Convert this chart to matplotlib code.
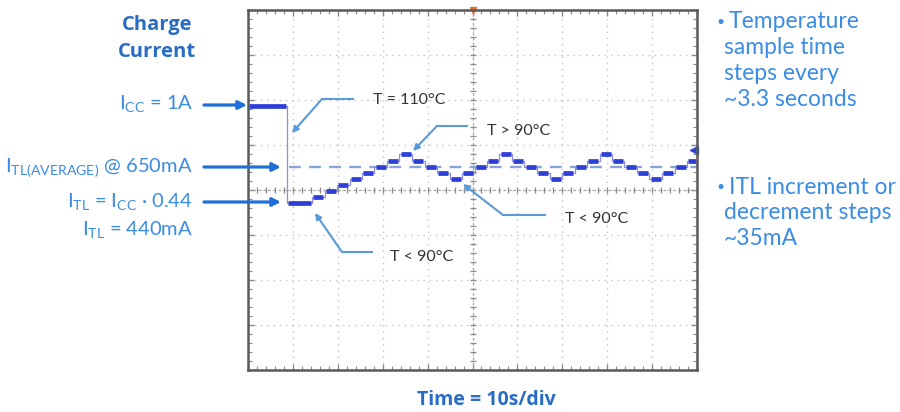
import matplotlib
matplotlib.use('Agg')
import matplotlib.pyplot as plt
import numpy as np

plt.rcParams['font.family'] = ['Lato', 'DejaVu Sans']
plt.rcParams['mathtext.fontset'] = 'custom'
plt.rcParams['mathtext.rm'] = 'Lato'

# scope trace: step start times (s) and charge current levels (mA)
step_times = [0, 8.7, 14.25, 17.04, 19.82, 22.61, 25.39, 28.17, 30.96, 33.74,
              36.53, 39.31, 42.09, 44.88, 47.66, 50.45, 53.23, 56.01, 58.80,
              61.58, 64.37, 67.15, 69.93, 72.72, 75.50, 78.29, 81.07, 83.85,
              86.64, 89.42, 92.20, 94.99, 97.77]
step_levels = [1000, 440, 475, 510, 545, 580, 615, 650, 685, 720,
               685, 650, 615, 580, 615, 650, 685, 720, 685,
               650, 615, 580, 615, 650, 685, 720, 685, 650,
               615, 580, 615, 650, 685]
end_time = 100
avg_level = 650
ch_marker_level = 745

ma_per_div = 258
x_divs = 10
y_divs = 8

W, H = 900, 412
BLUE_TXT = '#3a8ce4'
BLUE_DARK = '#2a6cc4'
ARROW = '#1f6fd8'
LEADER = '#5a9ad8'
TRACE = '#2d3fd6'
BOLD_FONT = ['Open Sans', 'DejaVu Sans']


def px(x, y):
    # pixel position in the picture -> figure fraction
    return x / W, 1 - y / H


fig = plt.figure(figsize=(9, 4.12), dpi=100)
ax = fig.add_axes([248 / W, 1 - 370 / H, (697 - 248) / W, 360 / H])

ax.set_xlim(0, end_time)
ax.set_ylim(-2 * ma_per_div, 6 * ma_per_div)
ax.set_xticks(np.linspace(0, end_time, x_divs + 1))
ax.set_yticks(np.arange(-2, 7) * ma_per_div)
ax.set_xticks(np.linspace(0, end_time, x_divs * 5 + 1), minor=True)
ax.set_yticks(np.linspace(-2 * ma_per_div, 6 * ma_per_div, y_divs * 5 + 1), minor=True)
ax.tick_params(which='both', direction='in', top=True, right=True,
               labelbottom=False, labelleft=False, color='#8a8a8a')
ax.tick_params(which='major', length=4, width=1)
ax.tick_params(which='minor', length=3, width=0.8)
ax.grid(True, which='major', color='#c4c4c4', linestyle=(0, (1, 3.5)), lw=1)
for s in ax.spines.values():
    s.set_color('#5a5a5a')
    s.set_linewidth(1.8)

# centre graticule with small ticks
xc = end_time / 2
yc = 2 * ma_per_div
ax.axvline(xc, color='#a8a8a8', lw=0.9, ls=(0, (2, 2)))
ax.axhline(yc, color='#a8a8a8', lw=0.9, ls=(0, (2, 2)))
mx = np.linspace(0, end_time, x_divs * 5 + 1)
my = np.linspace(-2 * ma_per_div, 6 * ma_per_div, y_divs * 5 + 1)
ax.plot(mx, np.full_like(mx, yc), ls='none', marker='|', ms=5, mew=0.9, color='#8a8a8a')
ax.plot(np.full_like(my, xc), my, ls='none', marker='_', ms=5, mew=0.9, color='#8a8a8a')

# average level
ax.hlines(avg_level, step_times[1] + 0.4, end_time, color='#87a4d6', lw=1.7,
          linestyles=(0, (5, 3.5)))

# trace
t_edges = step_times + [end_time]
ax.step(t_edges, step_levels + [step_levels[-1]], where='post', color='#8c8ee0', lw=0.9)
starts = np.array(step_times)
ends = np.array(t_edges[1:])
ax.hlines(step_levels, starts + 0.25, ends - 0.25, color=TRACE, lw=3.4)
ax.plot([end_time - 0.6], [ch_marker_level], marker='<', ms=6, color=TRACE, clip_on=False)
ax.plot([xc], [6 * ma_per_div], marker='v', ms=4, color='#e07030', clip_on=False)

# left side labels
fig.text(*px(157, 25), 'Charge', color=BLUE_DARK, fontsize=14.5, fontweight='bold',
         family=BOLD_FONT, ha='center', va='center')
fig.text(*px(157, 52), 'Current', color=BLUE_DARK, fontsize=14.5, fontweight='bold',
         family=BOLD_FONT, ha='center', va='center')

left_labels = [
    (104, r'$\mathregular{I_{CC}}$ = 1A'),
    (168, r'$\mathregular{I_{TL(AVERAGE)}}$ @ 650mA'),
    (202, r'$\mathregular{I_{TL}}$ = $\mathregular{I_{CC}}$ · 0.44'),
    (230, r'$\mathregular{I_{TL}}$ = 440mA'),
]
for y, s in left_labels:
    fig.text(*px(193, y), s, color=BLUE_TXT, fontsize=14.5, ha='right', va='center')

for y, x1 in [(105, 247), (167, 281), (202, 281)]:
    ax.annotate('', xy=px(x1, y), xytext=px(204, y), xycoords='figure fraction',
                textcoords='figure fraction', annotation_clip=False,
                arrowprops=dict(arrowstyle='-|>', color=ARROW, lw=2.3,
                                mutation_scale=12, shrinkA=0, shrinkB=0))

# temperature callouts: (text x, text y, label, leader points ending at arrow tip)
callouts = [
    (373, 100, 'T = 110°C', [(353, 99), (322, 99), (292, 133)]),
    (487, 131, 'T > 90°C', [(467, 126), (437, 126), (413, 151)]),
    (565, 219, 'T < 90°C', [(545, 215), (503, 215), (463, 184)]),
    (390, 257, 'T < 90°C', [(372, 252), (342, 252), (315, 213)]),
]
for tx, ty, s, pts in callouts:
    fig.text(*px(tx, ty), s, color='#333333', fontsize=11.5, ha='left', va='center')
    fx = [px(*p) for p in pts]
    fig.add_artist(plt.Line2D([fx[0][0], fx[1][0]], [fx[0][1], fx[1][1]],
                              color=LEADER, lw=1.5, transform=fig.transFigure))
    ax.annotate('', xy=fx[2], xytext=fx[1], xycoords='figure fraction',
                textcoords='figure fraction', annotation_clip=False,
                arrowprops=dict(arrowstyle='-|>', color=LEADER, lw=1.5,
                                mutation_scale=9, shrinkA=0, shrinkB=0))

# right side notes, one text per line
notes = [
    (22, ['Temperature', 'sample time', 'steps every', '~3.3 seconds']),
    (187, ['ITL increment or', 'decrement steps', '~35mA']),
]
for y0, lines in notes:
    fig.text(*px(725, y0), '•', color=BLUE_TXT, fontsize=10, ha='right', va='center')
    for i, s in enumerate(lines):
        x = 729 if i == 0 else 724
        fig.text(*px(x, y0 + i * 25.7), s, color=BLUE_TXT, fontsize=16.5,
                 ha='left', va='center')

fig.text(*px(486, 400), 'Time = 10s/div', color=BLUE_DARK, fontsize=14,
         fontweight='bold', family=BOLD_FONT, ha='center', va='center')

fig.savefig('out.png', dpi=100)
